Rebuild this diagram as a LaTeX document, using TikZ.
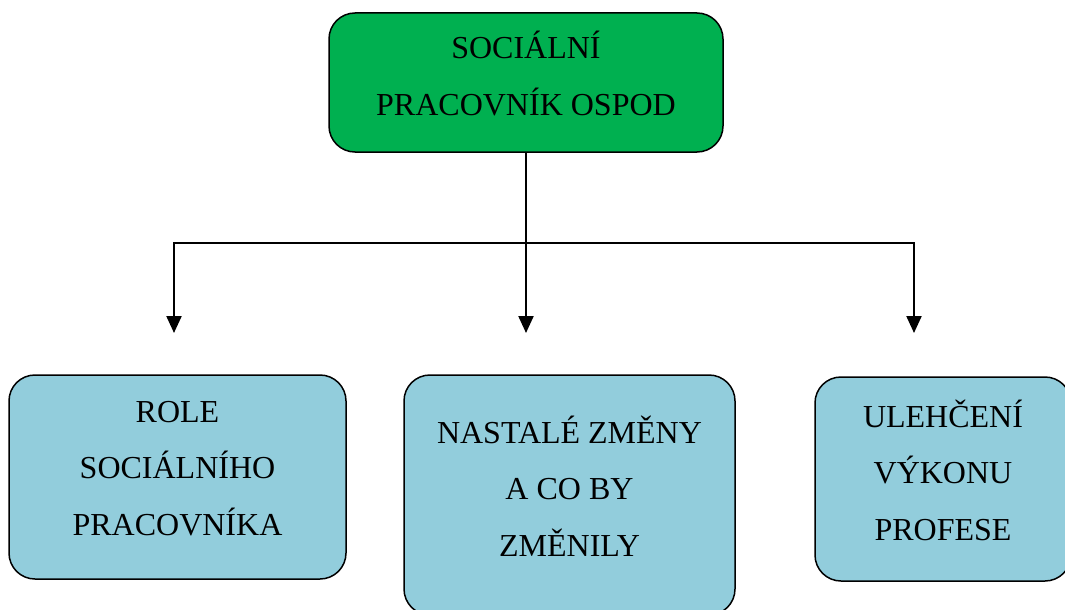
\documentclass[tikz,border=0pt]{standalone}
\usepackage{fontspec}
\setmainfont{Liberation Serif}
\usepackage{tikz}
\usetikzlibrary{positioning}
\usetikzlibrary{arrows.meta}
\usepackage{xcolor}
\definecolor{ospodgreen}{HTML}{00B050}
\definecolor{ospodblue}{HTML}{92CDDC}

\begin{document}
\begin{tikzpicture}[x=1pt,y=-1pt,
    f/.style={-{Triangle[length=17pt,width=15pt]},line width=2.2pt},%
    l/.style={line width=2.2pt},%
    b/.style={draw,line width=1.5pt,rounded corners=26pt,align=center,
      font=\fontsize{32}{56.5}\selectfont,inner sep=0pt,text depth=18pt}]
    \useasboundingbox (0,0) rectangle (1065,610);
    \node[b,fill=ospodgreen,minimum width=394pt,minimum height=139pt] (sp) at (526,82.5) {SOCIÁLNÍ\\PRACOVNÍK OSPOD} ;
    \node[b,fill=ospodblue,minimum width=337pt,minimum height=204pt] (role) at (177.5,477) {ROLE\\SOCIÁLNÍHO\\PRACOVNÍKA} ;
    \node[b,fill=ospodblue,minimum width=331pt,minimum height=240pt] (zmeny) at (569.5,495) {NASTALÉ ZMĚNY\\A CO BY\\ZMĚNILY} ;
    \node[b,fill=ospodblue,minimum width=256pt,minimum height=204pt] (ulehc) at (943,479) {ULEHČENÍ\\VÝKONU\\PROFESE} ;

    % rozvetveni
    \coordinate (bus) at (526,243);
    \coordinate (endL) at (174,333);
    \coordinate (endM) at (526,333);
    \coordinate (endR) at (914,333);
    \draw[l] (sp.south) -- (bus) ;
    \draw[f] (bus) -| (endL) ;
    \draw[f] (bus) -- (endM) ;
    \draw[f] (bus) -| (endR) ;
\end{tikzpicture}
\end{document}
